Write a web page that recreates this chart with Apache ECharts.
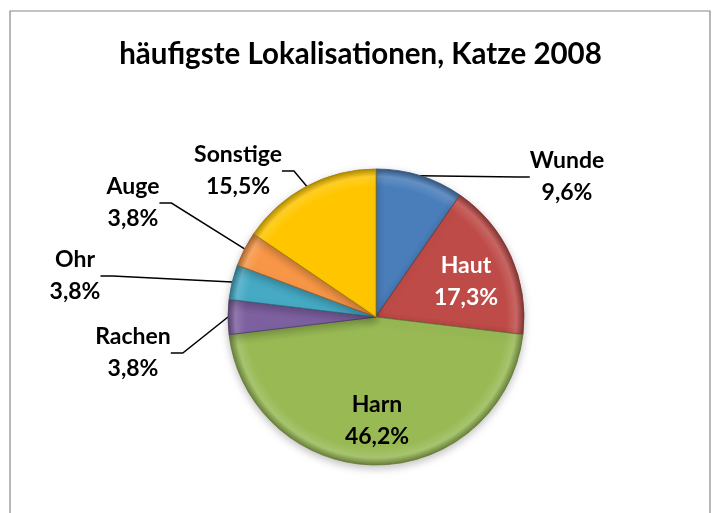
<!DOCTYPE html>
<html>
<head>
<meta charset="utf-8">
<script src="https://cdn.jsdelivr.net/npm/echarts@6/dist/echarts.min.js"></script>
<style>
  html, body { margin: 0; padding: 0; background: #fff; }
  #chart { width: 721px; height: 513px; }
</style>
</head>
<body>
<div id="chart"></div>
<script>
  var categories = ['Wunde', 'Haut', 'Harn', 'Rachen', 'Ohr', 'Auge', 'Sonstige'];
  var values = [9.6, 17.3, 46.2, 3.8, 3.8, 3.8, 15.5];
  var colors = ['#4a7ebb', '#be4b48', '#98b954', '#7d60a0', '#46aac5', '#f79646', '#ffc600'];
  var insideLabels = ['Haut', 'Harn'];
  // Label-Positionen (Mittelpunkt des Textblocks)
  var labelPos = {
    Wunde: [567, 177],
    Haut: [466, 282],
    Harn: [377, 421],
    Sonstige: [238, 171],
    Auge: [133, 203],
    Ohr: [75, 276],
    Rachen: [133, 353]
  };

  var cx = 376, cy = 317, R = 148;

  function shade(hex, f) {
    var n = parseInt(hex.slice(1), 16);
    var r = (n >> 16) & 255, g = (n >> 8) & 255, b = n & 255;
    function c(v) { return Math.max(0, Math.min(255, Math.round(f > 0 ? v + (255 - v) * f : v * (1 + f)))); }
    return 'rgb(' + c(r) + ',' + c(g) + ',' + c(b) + ')';
  }

  var chart = echarts.init(document.getElementById('chart'));

  var data = categories.map(function (name, i) {
    var inside = insideLabels.indexOf(name) >= 0;
    return {
      name: name,
      value: values[i],
      itemStyle: {
        color: {
          type: 'radial', x: cx, y: cy, r: R, global: true,
          colorStops: [
            { offset: 0, color: colors[i] },
            { offset: 0.88, color: colors[i] },
            { offset: 0.95, color: shade(colors[i], 0.15) },
            { offset: 1, color: shade(colors[i], -0.3) }
          ]
        },
        borderColor: shade(colors[i], -0.35),
        borderWidth: 0.8
      },
      label: inside ? {
        position: 'inside',
        color: name === 'Haut' ? '#ffffff' : '#000000'
      } : {},
      labelLine: { show: !inside }
    };
  });

  chart.setOption({
    animation: false,
    title: {
      text: 'häufigste Lokalisationen, Katze 2008',
      left: 'center',
      top: 34,
      textStyle: {
        fontFamily: 'Lato',
        fontSize: 29.5,
        fontWeight: 'bold',
        color: '#000'
      }
    },
    graphic: [{
      type: 'rect',
      shape: { x: 10, y: 11, width: 700, height: 520 },
      style: { fill: 'none', stroke: '#888888', lineWidth: 1.2 },
      silent: true,
      z: -1
    }],
    series: [{
      type: 'pie',
      center: [cx, cy],
      radius: R,
      startAngle: 90,
      clockwise: true,
      data: data,
      label: {
        show: true,
        fontFamily: 'Lato',
        fontSize: 23,
        fontWeight: 'bold',
        color: '#000',
        lineHeight: 32,
        align: 'center',
        formatter: function (p) {
          return p.name + '\n' + p.value.toFixed(1).replace('.', ',') + '%';
        }
      },
      labelLine: {
        show: true,
        length: 12,
        length2: 12,
        lineStyle: { color: '#000', width: 1.5 }
      },
      labelLayout: function (p) {
        var name = categories[p.dataIndex];
        var pos = labelPos[name];
        if (!pos) return {};
        return { x: pos[0], y: pos[1], align: 'center', verticalAlign: 'middle' };
      },
      itemStyle: {
        shadowBlur: 8,
        shadowColor: 'rgba(0,0,0,0.25)',
        shadowOffsetY: 3
      },
      emphasis: { disabled: true }
    }]
  });
</script>
</body>
</html>
